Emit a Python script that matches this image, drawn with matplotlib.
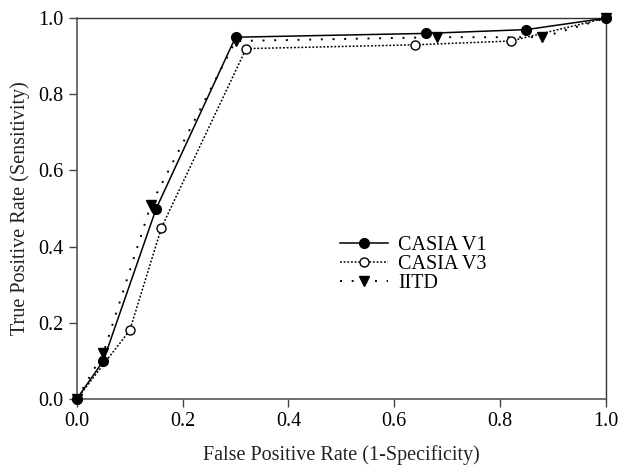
import matplotlib
matplotlib.use("Agg")
import matplotlib.pyplot as plt

plt.rcParams['font.family'] = ['Liberation Serif', 'DejaVu Serif']

# ROC points
v1_fpr = [0.0, 0.05, 0.15, 0.30, 0.66, 0.85, 1.0]
v1_tpr = [0.0, 0.10, 0.50, 0.95, 0.96, 0.97, 1.0]

v3_fpr = [0.0, 0.10, 0.16, 0.32, 0.64, 0.82, 1.0]
v3_tpr = [0.0, 0.18, 0.45, 0.92, 0.93, 0.94, 1.0]

iitd_fpr = [0.0, 0.05, 0.14, 0.30, 0.68, 0.88, 1.0]
iitd_tpr = [0.0, 0.12, 0.51, 0.94, 0.95, 0.95, 1.0]

ticks = [0.0, 0.2, 0.4, 0.6, 0.8, 1.0]

fig = plt.figure(figsize=(6.2, 4.66), dpi=100)
ax = fig.add_axes([0.124, 0.144, 0.853, 0.817])

ax.plot(iitd_fpr, iitd_tpr, color="black", lw=1.4, ls=(0, (1, 5)),
        marker="v", ms=7, mfc="black", mec="black", label="IITD",
        zorder=2, clip_on=False)
ax.plot(v3_fpr, v3_tpr, color="black", lw=1.1, ls=(0, (1.2, 1.2)),
        marker="o", ms=6.5, mfc="white", mec="black", mew=1.0, label="CASIA V3",
        zorder=3, clip_on=False)
ax.plot(v1_fpr, v1_tpr, color="black", lw=1.1, ls="-",
        marker="o", ms=7, mfc="black", mec="black", label="CASIA V1",
        zorder=4, clip_on=False)

ax.set_xlim(0, 1.0)
ax.set_ylim(0, 1.0)
ax.set_xticks(ticks)
ax.set_yticks(ticks)
ax.set_xticklabels([f"{t:.1f}" for t in ticks])
ax.set_yticklabels([f"{t:.1f}" for t in ticks])
ax.tick_params(direction="out", length=6, width=1, labelsize=14.5, color="#444444")
for side in ["left", "bottom"]:
    ax.spines[side].set_color("#555555")
    ax.spines[side].set_linewidth(1.2)
for side in ["top", "right"]:
    ax.spines[side].set_color("#333333")
    ax.spines[side].set_linewidth(1.0)

ax.set_xlabel("False Positive Rate (1-Specificity)", fontsize=14.5, labelpad=10, color="#222222")
ax.set_ylabel("True Positive Rate (Sensitivity)", fontsize=14.5, labelpad=6, color="#222222")

handles, labels = ax.get_legend_handles_labels()
order = [2, 1, 0]
ax.legend([handles[i] for i in order], [labels[i] for i in order],
          loc="upper left", bbox_to_anchor=(0.47, 0.466), frameon=False,
          fontsize=14.5, handlelength=2.4, handletextpad=0.5, labelspacing=0.0,
          borderpad=0.2)

fig.savefig("out.png", dpi=100)
